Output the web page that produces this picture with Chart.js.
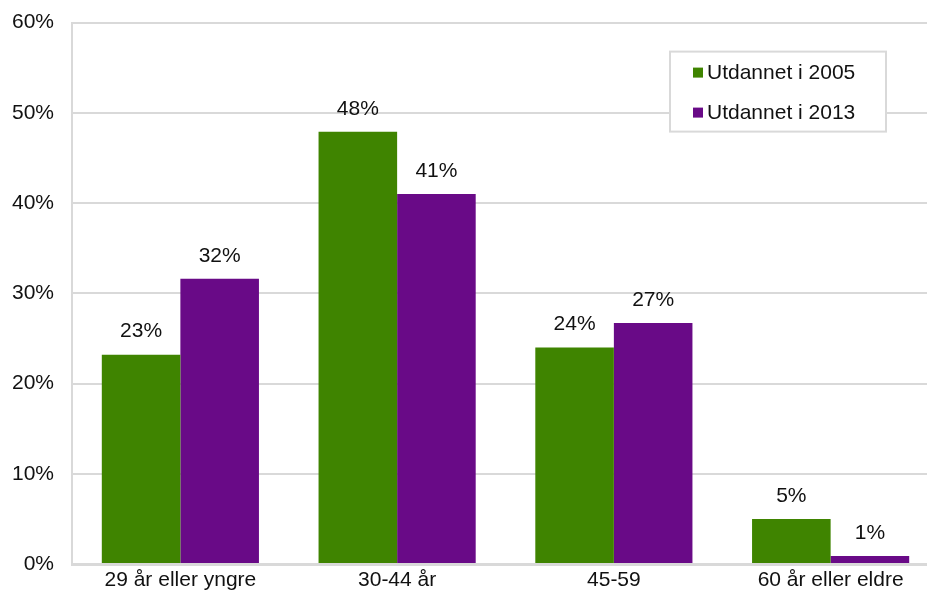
<!DOCTYPE html>
<html>
<head>
<meta charset="utf-8">
<script src="https://cdn.jsdelivr.net/npm/chart.js@4/dist/chart.umd.min.js"></script>
<style>
  html, body { margin: 0; padding: 0; background: #fff; overflow: hidden; }
  #wrap { width: 927px; height: 590px; overflow: hidden; position: relative; }
  #box { width: 939px; height: 608px; position: absolute; left: 0; top: -8px; }
</style>
</head>
<body>
<div id="wrap"><div id="box"><canvas id="myChart"></canvas></div></div>
<script>
// aldersgrupper og andeler (prosent)
const categories = ['29 år eller yngre', '30-44 år', '45-59', '60 år eller eldre'];
const series2005 = [23.2, 47.9, 24.0, 5.0];
const series2013 = [31.6, 41.0, 26.7, 0.9];
const seriesNames = ['Utdannet i 2005', 'Utdannet i 2013'];
const yTicks = [0, 10, 20, 30, 40, 50, 60];

const GREEN = '#3f8400';
const PURPLE = '#690a87';
const FONT = '"Liberation Sans", Arial, sans-serif';

// prosenttall over søylene
const valueLabels = {
    id: 'valueLabels',
    afterDatasetsDraw(chart) {
        const ctx = chart.ctx;
        ctx.save();
        ctx.font = '21px ' + FONT;
        ctx.fillStyle = '#111';
        ctx.textAlign = 'center';
        ctx.textBaseline = 'middle';
        chart.data.datasets.forEach((ds, i) => {
            chart.getDatasetMeta(i).data.forEach((bar, j) => {
                ctx.fillText(Math.round(ds.data[j]) + '%', bar.x, bar.y - 23);
            });
        });
        ctx.restore();
    }
};

// forklaringsboks oppe til høyre, plassert ut fra plottområdet
const legendBox = {
    id: 'legendBox',
    afterDraw(chart) {
        const ctx = chart.ctx;
        const x = 670, y = chart.chartArea.top + 29, w = 216, h = 80;
        ctx.save();
        ctx.fillStyle = '#fff';
        ctx.fillRect(x, y, w, h);
        ctx.strokeStyle = '#d9d9d9';
        ctx.lineWidth = 2;
        ctx.strokeRect(x, y, w, h);
        ctx.font = '21px ' + FONT;
        ctx.textBaseline = 'middle';
        chart.data.datasets.forEach((ds, i) => {
            const cy = y + 21 + i * 40;
            ctx.fillStyle = ds.backgroundColor;
            ctx.fillRect(x + 23, cy - 5, 10, 10);
            ctx.fillStyle = '#111';
            ctx.fillText(ds.label, x + 37, cy + 1);
        });
        ctx.restore();
    }
};

const ctx = document.querySelector('#myChart').getContext('2d');
const myChart = new Chart(ctx, {
    type: 'bar',
    data: {
        labels: categories,
        datasets: [{
            label: seriesNames[0],
            data: series2005,
            backgroundColor: GREEN,
            borderWidth: 0
        }, {
            label: seriesNames[1],
            data: series2013,
            backgroundColor: PURPLE,
            borderWidth: 0
        }]
    },
    options: {
        responsive: true,
        maintainAspectRatio: false,
        animation: false,
        layout: { padding: { top: 9, right: 0, left: 0, bottom: 0 } },
        datasets: { bar: { categoryPercentage: 0.725, barPercentage: 1.0 } },
        plugins: {
            legend: { display: false },
            tooltip: { enabled: false }
        },
        scales: {
            x: {
                grid: { display: false, drawTicks: false },
                border: { color: '#d9d9d9', width: 3 },
                ticks: { color: '#111', font: { family: FONT, size: 21 }, padding: 4, maxRotation: 0 },
                afterFit(scale) { scale.height = 36; }
            },
            y: {
                min: 0,
                max: 60,
                afterBuildTicks(scale) { scale.ticks = yTicks.map(v => ({ value: v })); },
                grid: { color: '#d9d9d9', lineWidth: 2, drawTicks: false },
                border: { color: '#d9d9d9', width: 2 },
                ticks: {
                    color: '#111',
                    font: { family: FONT, size: 21 },
                    padding: 18,
                    callback: v => v + '%'
                },
                afterFit(scale) { scale.width = 72; }
            }
        }
    },
    plugins: [valueLabels, legendBox]
});
</script>
</body>
</html>
